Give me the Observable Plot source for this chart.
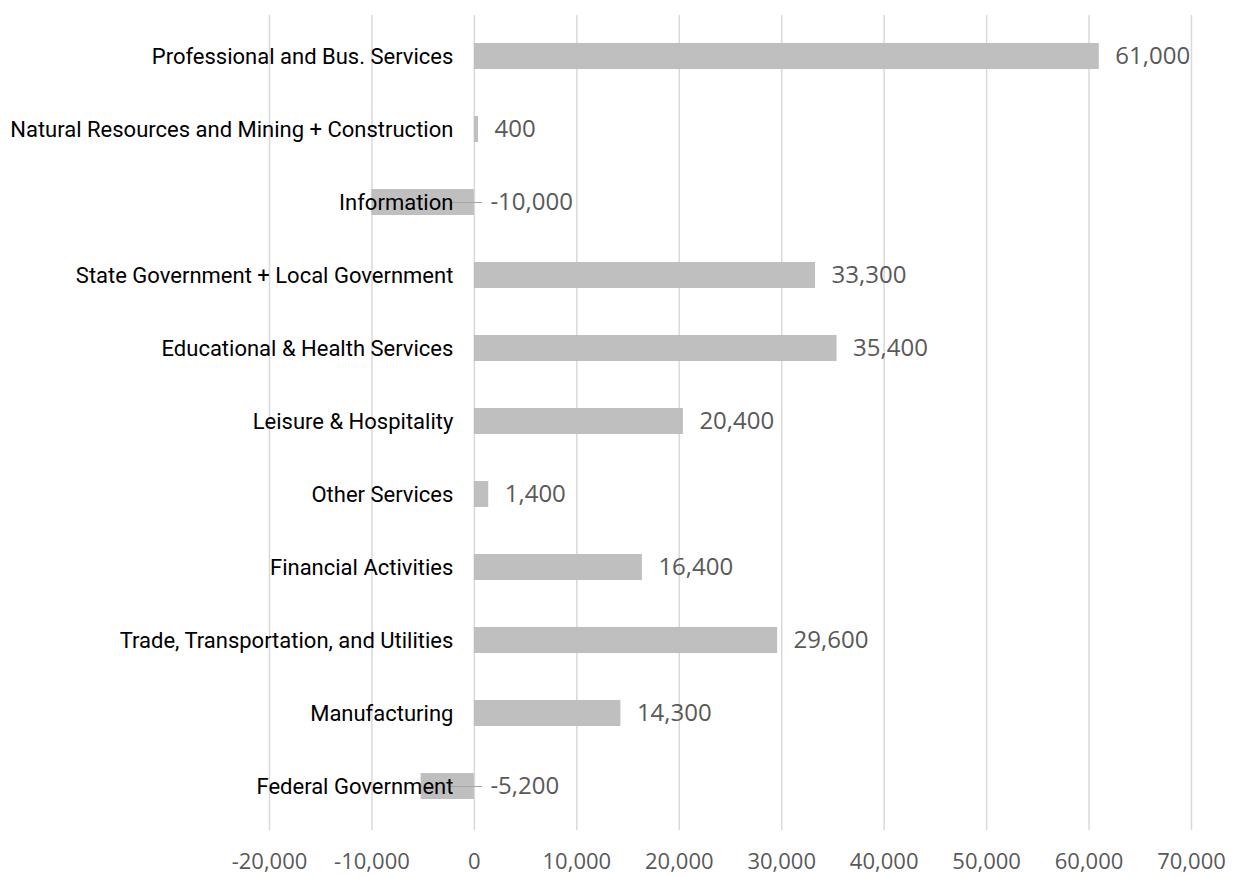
<!DOCTYPE html>
<html>
<head>
<meta charset="utf-8">
<script src="https://cdn.jsdelivr.net/npm/d3@7"></script>
<script src="https://cdn.jsdelivr.net/npm/@observablehq/plot@0.6"></script>
<style>
  html, body { margin: 0; padding: 0; background: #fff; }
  #chart svg { display: block; }
</style>
</head>
<body>
<div id="chart"></div>
<script>
const categories = [
  "Professional and Bus. Services",
  "Natural Resources and Mining + Construction",
  "Information",
  "State Government + Local Government",
  "Educational & Health Services",
  "Leisure & Hospitality",
  "Other Services",
  "Financial Activities",
  "Trade, Transportation, and Utilities",
  "Manufacturing",
  "Federal Government"
];
const values = [61000, 400, -10000, 33300, 35400, 20400, 1400, 16400, 29600, 14300, -5200];
const xTicks = [-20000, -10000, 0, 10000, 20000, 30000, 40000, 50000, 60000, 70000];

const data = categories.map((c, i) => ({category: c, value: values[i]}));
const fmt = v => d3.format(",")(v).replace("\u2212", "-");
const positives = data.filter(d => d.value >= 0);
const negatives = data.filter(d => d.value < 0);

const chart = Plot.plot({
  width: 1237,
  height: 876,
  marginLeft: 269,
  marginRight: 46,
  marginTop: 16,
  marginBottom: 50,
  x: {domain: [-20000, 70000]},
  y: {domain: categories, paddingInner: 0.65, paddingOuter: 0.325, axis: null},
  style: {background: "#fff"},
  marks: [
    Plot.ruleX(xTicks, {stroke: "#d9d9d9", strokeWidth: 1.5, insetTop: -1, insetBottom: -4}),
    Plot.barX(data, {x: "value", y: "category", fill: "#bfbfbf"}),
    Plot.ruleY(negatives, {y: "category", x1: -2300, x2: 800, stroke: "#a6a6a6", strokeWidth: 1}),
    Plot.text(data, {
      x: 0, y: "category", text: "category", textAnchor: "end", dx: -21,
      fill: "#000", fontSize: 22, fontFamily: "Roboto"
    }),
    Plot.text(positives, {
      x: "value", y: "category", text: d => fmt(d.value), textAnchor: "start", dx: 16,
      fill: "#595959", fontSize: 24, fontFamily: "Open Sans"
    }),
    Plot.text(negatives, {
      x: 0, y: "category", text: d => fmt(d.value), textAnchor: "start", dx: 16,
      fill: "#595959", fontSize: 24, fontFamily: "Open Sans"
    }),
    Plot.axisX(xTicks, {
      tickSize: 0, tickPadding: 27, tickFormat: fmt, fill: "#595959",
      fontSize: 22, fontFamily: "Open Sans", label: null
    })
  ]
});
document.getElementById("chart").appendChild(chart);
</script>
</body>
</html>
